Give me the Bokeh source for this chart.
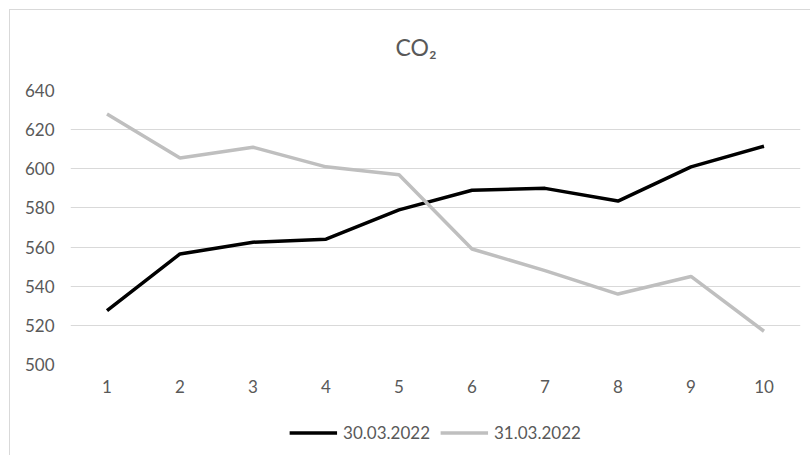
from bokeh.plotting import figure
from bokeh.layouts import column
from bokeh.models import Range1d, FixedTicker, Legend, LegendItem
from bokeh.embed import file_html
from bokeh.resources import INLINE

x_values = [1, 2, 3, 4, 5, 6, 7, 8, 9, 10]
series_30 = [527.5, 556.5, 562.5, 564, 579, 589, 590, 583.5, 601, 611.5]
series_31 = [628, 605.5, 611, 601, 597, 559, 548, 536, 545, 517]
y_ticks = [500, 520, 540, 560, 580, 600, 620, 640]
title_text = "CO\u2082"
label_30 = "30.03.2022"
label_31 = "31.03.2022"

FONT = "Lato"
TXT = "#595959"
C30 = "black"
C31 = "#bfbfbf"

p = figure(width=810, height=400, output_backend="svg", toolbar_location=None,
           x_range=Range1d(0.5, 10.5), y_range=Range1d(500, 640),
           min_border_left=70, min_border_right=10, min_border_top=89, min_border_bottom=36)
p.title.text = title_text
p.title.align = "left"
p.title.offset = 325
p.title.text_font = FONT
p.title.text_font_size = "23px"
p.title.text_font_style = "normal"
p.title.text_color = TXT
p.title.standoff = 60
p.outline_line_color = None
p.background_fill_color = "white"
p.border_fill_alpha = 0

p.line(x_values, series_30, line_color=C30, line_width=3.5)
p.line(x_values, series_31, line_color=C31, line_width=3.5)

p.xaxis.ticker = FixedTicker(ticks=x_values)
p.yaxis.ticker = FixedTicker(ticks=y_ticks)
for ax in (p.xaxis[0], p.yaxis[0]):
    ax.axis_line_color = None
    ax.major_tick_line_color = None
    ax.minor_tick_line_color = None
    ax.major_label_text_font = FONT
    ax.major_label_text_font_size = "17px"
    ax.major_label_text_color = TXT
p.xaxis.major_label_standoff = 9
p.yaxis.major_label_standoff = 10
p.xgrid.grid_line_color = None
p.ygrid.grid_line_color = "#d9d9d9"
p.ygrid.grid_line_width = 1

# legend strip below the chart (series drawn again but outside its visible range)
q = figure(width=810, height=55, output_backend="svg", toolbar_location=None,
           x_axis_type=None, y_axis_type=None,
           x_range=Range1d(0.5, 10.5), y_range=Range1d(0, 1),
           min_border_left=20, min_border_right=0, min_border_top=9, min_border_bottom=0)
q.grid.visible = False
q.outline_line_color = None
q.background_fill_alpha = 0
q.border_fill_alpha = 0
l1 = q.line(x_values, series_30, line_color=C30, line_width=3.5)
l2 = q.line(x_values, series_31, line_color=C31, line_width=3.5)
legend = Legend(items=[LegendItem(label=label_30, renderers=[l1]),
                       LegendItem(label=label_31, renderers=[l2])],
                orientation="horizontal", location="center",
                border_line_color=None, background_fill_alpha=0,
                label_text_font=FONT, label_text_font_size="17px",
                label_text_color=TXT, glyph_width=48, label_standoff=6,
                spacing=10, margin=0, padding=0)
q.add_layout(legend)

layout = column(p, q, spacing=0,
                styles={"background": "linear-gradient(#d9d9d9,#d9d9d9) 9px 9px / 1px 100% no-repeat, "
                                      "linear-gradient(#d9d9d9,#d9d9d9) 9px 9px / 100% 1px no-repeat, white"})

open("out.html", "w").write(file_html(layout, INLINE))
